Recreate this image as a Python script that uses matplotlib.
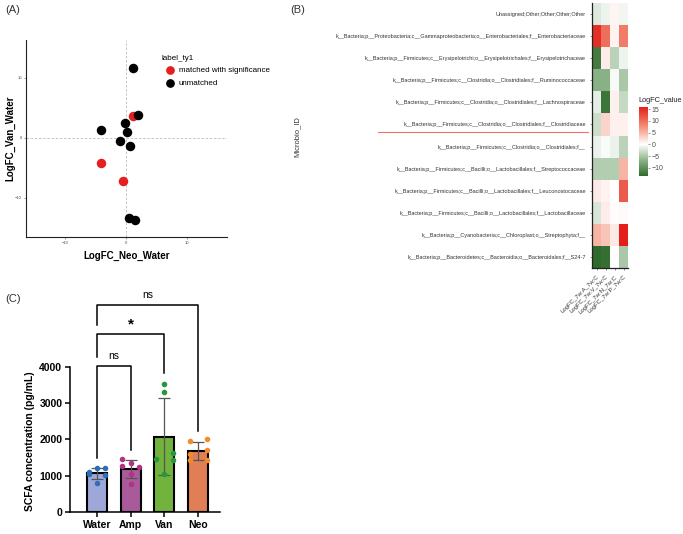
import numpy as np
import matplotlib.pyplot as plt
from matplotlib.colors import LinearSegmentedColormap, Normalize
from matplotlib.lines import Line2D

plt.rcParams["font.family"] = ["Liberation Sans", "DejaVu Sans"]

W, H = 683, 534

# (A) LogFC scatter
matched_neo = [1.1, -4.1, -0.6]
matched_van = [3.6, -4.2, -7.1]
unmatched_neo = [1.1, 1.9, -4.2, -0.2, 0.1, -1.1, 0.6, 0.4, 1.4]
unmatched_van = [11.7, 3.8, 1.3, 2.4, 0.95, -0.55, -1.3, -13.3, -13.7]

# (B) heatmap, rows top to bottom
taxa = [
    "Unassigned;Other;Other;Other;Other",
    "k__Bacteria;p__Proteobacteria;c__Gammaproteobacteria;o__Enterobacteriales;f__Enterobacteriaceae",
    "k__Bacteria;p__Firmicutes;c__Erysipelotrichi;o__Erysipelotrichales;f__Erysipelotrichaceae",
    "k__Bacteria;p__Firmicutes;c__Clostridia;o__Clostridiales;f__Ruminococcaceae",
    "k__Bacteria;p__Firmicutes;c__Clostridia;o__Clostridiales;f__Lachnospiraceae",
    "k__Bacteria;p__Firmicutes;c__Clostridia;o__Clostridiales;f__Clostridiaceae",
    "k__Bacteria;p__Firmicutes;c__Clostridia;o__Clostridiales;f__",
    "k__Bacteria;p__Firmicutes;c__Bacilli;o__Lactobacillales;f__Streptococcaceae",
    "k__Bacteria;p__Firmicutes;c__Bacilli;o__Lactobacillales;f__Leuconostocaceae",
    "k__Bacteria;p__Firmicutes;c__Bacilli;o__Lactobacillales;f__Lactobacillaceae",
    "k__Bacteria;p__Cyanobacteria;c__Chloroplast;o__Streptophyta;f__",
    "k__Bacteria;p__Bacteroidetes;c__Bacteroidia;o__Bacteroidales;f__S24-7",
]
contrasts = ["LogFC_7w:A_7w:C", "LogFC_7w:V_7w:C", "LogFC_7w:N_7w:C", "LogFC_7w:P_7w:C"]
logfc_a = [-2, 14.8, -12, -7, -1.5, -3, -1.2, -4.5, 1.5, -2.3, 5, -13.5]
logfc_v = [-1, 10, 1.2, -7, -12.5, 3, -0.4, -4.5, 0.8, 1.3, 4, -13]
logfc_n = [0.7, 0.8, -4, -0.5, 1, 1, -1.2, -4.5, 0, 0.2, 1.5, 0.1]
logfc_p = [-0.8, 9, -1, -5, -3.5, 1, -4, 5, 11.5, 0.3, 15.9, -5]
cbar_ticks = [-10, -5, 0, 5, 10, 15]

# (C) SCFA
groups = ["Water", "Amp", "Van", "Neo"]
scfa_water = [1110, 1220, 1230, 1030, 1040, 810]
scfa_amp = [1470, 1350, 1260, 1240, 1040, 790]
scfa_van = [3535, 3316, 1475, 1640, 1448, 1063]
scfa_neo = [1950, 2015, 1725, 1596, 1430, 1448]
jitter = [
    [-0.25, 0, 0.25, 0.25, -0.25, 0],
    [-0.25, 0, -0.25, 0.25, 0, 0],
    [0, 0, -0.25, 0.25, 0.25, 0],
    [-0.25, 0.25, 0.25, -0.25, -0.25, 0.25],
]
# (group a, group b, bar height, leg end a, leg end b, label)
comparisons = [
    (0, 1, 4020, 1490, 1710, "ns"),
    (0, 2, 4900, 4270, 3830, "*"),
    (0, 3, 5700, 5150, 2230, "ns"),
]
bar_colors = ["#9DA8D8", "#A85A9B", "#72B33E", "#E07F56"]
dot_colors = ["#2E6DB8", "#B0347F", "#27963C", "#F38A2B"]


def box(l, t, r, b):
    return [l / W, 1 - b / H, (r - l) / W, (b - t) / H]


fig = plt.figure(figsize=(W / 100, H / 100), dpi=100)

# ---- panel A
ax = fig.add_axes(box(26, 40, 227, 237))
ax.axhline(0, color="#BBBBBB", lw=0.6, ls=(0, (3, 2)), zorder=0)
ax.axvline(0, color="#BBBBBB", lw=0.6, ls=(0, (3, 2)), zorder=0)
ax.scatter(matched_neo, matched_van, s=34, color="#E41F1F", label="matched with significance", zorder=2)
ax.scatter(unmatched_neo, unmatched_van, s=34, color="black", label="unmatched", zorder=3)
ax.set_xlim(-16.5, 16.6)
ax.set_ylim(-16.5, 16.3)
ax.set_xticks([-10, 0, 10])
ax.set_yticks([-10, 0, 10])
ax.tick_params(labelsize=3, colors="#4D4D4D", length=1.5, width=0.4, pad=1.5)
for s in ("top", "right"):
    ax.spines[s].set_visible(False)
for s in ("left", "bottom"):
    ax.spines[s].set_linewidth(0.8)
    ax.spines[s].set_color("#222222")
ax.set_xlabel("LogFC_Neo_Water", fontsize=7, fontweight="bold", labelpad=4)
ax.set_ylabel("LogFC_Van_Water", fontsize=7, fontweight="bold")
ax.yaxis.set_label_coords(-0.055, 0.5)
ax.legend(loc="upper left", bbox_to_anchor=(162 / W, 1 - 55 / H), bbox_transform=fig.transFigure,
          frameon=False, fontsize=5.8, title="label_ty1", title_fontsize=5.8, alignment="left",
          handletextpad=0.1, labelspacing=0.6, borderpad=0, borderaxespad=0, markerscale=0.9)
fig.text(5 / W, 1 - 10 / H, "(A)", fontsize=8, va="center", color="#333333")

# ---- panel B
cols = [logfc_a, logfc_v, logfc_n, logfc_p]
vals = np.array(cols).T
vmin, vmax = vals.min(), vals.max()
z = -vmin / (vmax - vmin)
cmap = LinearSegmentedColormap.from_list("gwr", [
    (0.0, "#2F6B2C"), (z / 2, "#8CB489"), (z, "#FFFFFF"),
    (z + (1 - z) / 2, "#F28A72"), (1.0, "#E41F1B")])
axh = fig.add_axes(box(592, 3, 628, 268))
mesh = axh.pcolormesh(np.arange(5), np.arange(len(taxa) + 1), vals, cmap=cmap,
                      norm=Normalize(vmin, vmax))
axh.set_ylim(len(taxa), 0)
axh.set_xlim(0, 4)
axh.set_yticks(np.arange(len(taxa)) + 0.5)
axh.set_yticklabels(taxa, fontsize=4.0, color="#4D4D4D")
axh.set_xticks(np.arange(4) + 0.5)
axh.set_xticklabels(contrasts, fontsize=4.3, color="#4D4D4D", rotation=45, ha="right",
                    rotation_mode="anchor")
axh.tick_params(length=1.5, width=0.4, pad=3, colors="#333333")
for s in ("top", "right"):
    axh.spines[s].set_visible(False)
for s in ("left", "bottom"):
    axh.spines[s].set_linewidth(0.9)
    axh.spines[s].set_color("#222222")
fig.text(297 / W, 1 - 137 / H, "Microbio_ID", rotation=90, fontsize=5.5, va="center",
         ha="center", color="#333333")
fig.add_artist(Line2D([378 / W, 588 / W], [1 - 132 / H] * 2, color="#F07070", lw=0.8))
fig.text(290 / W, 1 - 10 / H, "(B)", fontsize=8, va="center", color="#333333")

cax = fig.add_axes(box(639, 107, 647.5, 176))
cb = fig.colorbar(mesh, cax=cax, ticks=cbar_ticks)
cb.outline.set_visible(False)
cb.ax.set_yticklabels([f"{t}".replace("-", "\u2212") for t in cbar_ticks])
cb.ax.tick_params(labelsize=5, colors="#4D4D4D", length=1.5, width=0.4, pad=1.5)
fig.text(638 / W, 1 - 100 / H, "LogFC_value", fontsize=5.3, va="center", ha="left",
         color="#222222")

# ---- panel C
axc = fig.add_axes(box(70, 288, 220, 512.3))
data = [scfa_water, scfa_amp, scfa_van, scfa_neo]
x = np.arange(len(groups))
means = [np.mean(d) for d in data]
sds = [np.std(d, ddof=1) for d in data]
axc.bar(x, means, width=0.6, color=bar_colors, edgecolor="black", linewidth=1.5, zorder=1)
for i, d in enumerate(data):
    axc.scatter(x[i] + np.array(jitter[i]), d, s=16, color=dot_colors[i], zorder=3, linewidths=0)
axc.errorbar(x, means, yerr=sds, fmt="none", ecolor="#555555", elinewidth=0.9, capsize=4.3,
             capthick=0.9, zorder=2)
for a, b, h, ea, eb, lab in comparisons:
    axc.plot([x[a], x[a], x[b], x[b]], [ea, h, h, eb], color="black", lw=1.1, clip_on=False)
    if lab == "*":
        axc.text((x[a] + x[b]) / 2, h + 60, lab, ha="center", va="bottom", fontsize=11,
                 fontweight="bold")
    else:
        axc.text((x[a] + x[b]) / 2, h + 130, lab, ha="center", va="bottom", fontsize=7.5)
axc.set_xlim(-0.8, 3.65)
axc.set_ylim(0, 6162)
axc.set_yticks([0, 1000, 2000, 3000, 4000])
axc.spines["left"].set_bounds(0, 4000)
axc.set_xticks(x)
axc.set_xticklabels(groups)
for s in ("top", "right"):
    axc.spines[s].set_visible(False)
for s in ("left", "bottom"):
    axc.spines[s].set_linewidth(1.1)
axc.tick_params(width=1.1, length=3.5, labelsize=7.5, pad=2)
for t in axc.get_xticklabels() + axc.get_yticklabels():
    t.set_fontweight("bold")
axc.set_ylabel("SCFA concentration (pg/mL)", fontsize=7.5, fontweight="bold")
axc.yaxis.set_label_coords(-0.235, 0.318)
fig.text(5 / W, 1 - 299 / H, "(C)", fontsize=8, va="center", color="#333333")

fig.savefig("out.png", dpi=100)
